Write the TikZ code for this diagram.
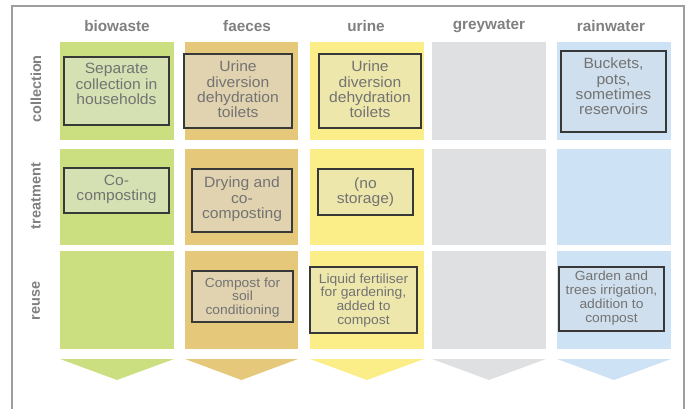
\documentclass[tikz,border=0pt]{standalone}
\usepackage{fontspec}
\setmainfont{Liberation Sans}
\newfontfamily\boxfont[FakeStretch=1.05]{Liberation Sans}
\begin{document}
\begin{tikzpicture}[x=1pt,y=-1pt,
  inbox/.style={draw=black!78,line width=1.3pt,inner sep=0pt},
  txt/.style={text=black!55,align=center,inner sep=0pt,font=\boxfont\fontsize{14.9}{15.4}\selectfont},
  smalltxt/.style={txt,font=\boxfont\fontsize{13.2}{13.9}\selectfont},
  head/.style={text=black!50,font=\bfseries\fontsize{15.3}{16}\selectfont,inner sep=0pt},
  rowlab/.style={head,rotate=90,font=\bfseries\fontsize{14.5}{16}\selectfont}]
\definecolor{cbio}{HTML}{CBDF80}
\definecolor{cfae}{HTML}{E5C87A}
\definecolor{curi}{HTML}{FBEE88}
\definecolor{cgrey}{HTML}{DFE0E2}
\definecolor{crain}{HTML}{CDE3F5}
\definecolor{ibio}{HTML}{D5E1B2}
\definecolor{ifae}{HTML}{E1D3B0}
\definecolor{iuri}{HTML}{EDE7AB}
\definecolor{irain}{HTML}{CFDFED}
\useasboundingbox (0,0) rectangle (690,408);
% outer frame
\draw[black!38,line width=1.8pt] (12,412) -- (12,6) -- (684,6) -- (684,412);
% column headers
\node[head] (hbio) at (117,26) {biowaste};
\node[head] (hfae) at (247,26) {faeces};
\node[head] (huri) at (366,26) {urine};
\node[head] (hgrey) at (489,26) {greywater};
\node[head] (hrain) at (611,26) {rainwater};
% row labels
\node[rowlab] (rcol) at (36,89) {collection};
\node[rowlab] (rtreat) at (36,196) {treatment};
\node[rowlab] (rreuse) at (36,301) {reuse};
% coloured cells: columns x rows, with a chevron below each column
\foreach \c/\x/\w in {cbio/60/114,cfae/185/113,curi/310/114,cgrey/432/114,crain/557/114}{
  \fill[\c] (\x,42) rectangle ++(\w,98);
  \fill[\c] (\x,149) rectangle ++(\w,96);
  \fill[\c] (\x,251) rectangle ++(\w,98);
  \fill[\c] (\x,359) -- ++(\w,0) -- ++(-\w/2,21) -- cycle;
}
% collection
\node[inbox,fill=ibio,minimum width=105pt,minimum height=68pt] (bc) at (116.5,91) {};
\node[txt] (bct) at ([yshift=7pt]bc.center) {Separate\\collection in\\households};
\node[inbox,fill=ifae,minimum width=108pt,minimum height=74pt] (fc) at (238,91) {};
\node[txt] (fct) at ([yshift=1.5pt]fc.center) {Urine\\diversion\\dehydration\\toilets};
\node[inbox,fill=iuri,minimum width=102pt,minimum height=74pt] (uc) at (370,91) {};
\node[txt] (uct) at ([yshift=1.5pt]uc.center) {Urine\\diversion\\dehydration\\toilets};
\node[inbox,fill=irain,minimum width=105pt,minimum height=81pt] (rc) at (613.5,91.5) {};
\node[txt] (rct) at ([yshift=5pt]rc.center) {Buckets,\\pots,\\sometimes\\reservoirs};
% treatment
\node[inbox,fill=ibio,minimum width=105pt,minimum height=45pt] (bt) at (116.5,190.5) {};
\node[txt] (btt) at ([yshift=1pt]bt.center) {Co-\\composting};
\node[inbox,fill=ifae,minimum width=100pt,minimum height=63pt] (ft) at (242,200.5) {};
\node[txt] (ftt) at ([yshift=1pt]ft.center) {Drying and\\co-\\composting};
\node[inbox,fill=iuri,minimum width=95pt,minimum height=46pt] (ut) at (365.5,192) {};
\node[txt] (utt) at (ut.center) {(no\\storage)};
% reuse
\node[inbox,fill=ifae,minimum width=101pt,minimum height=51pt] (fr) at (242.5,296.5) {};
\node[smalltxt] (frt) at ([yshift=-1pt]fr.center) {Compost for\\soil\\conditioning};
\node[inbox,fill=iuri,minimum width=107pt,minimum height=66pt] (ur) at (363.5,300) {};
\node[smalltxt] (urt) at ([yshift=-0.5pt]ur.center) {Liquid fertiliser\\for gardening,\\added to\\compost};
\node[inbox,fill=irain,minimum width=105pt,minimum height=64pt] (rr) at (611.5,299) {};
\node[smalltxt] (rrt) at ([yshift=1pt]rr.center) {Garden and\\trees irrigation,\\addition to\\compost};
\end{tikzpicture}
\end{document}
